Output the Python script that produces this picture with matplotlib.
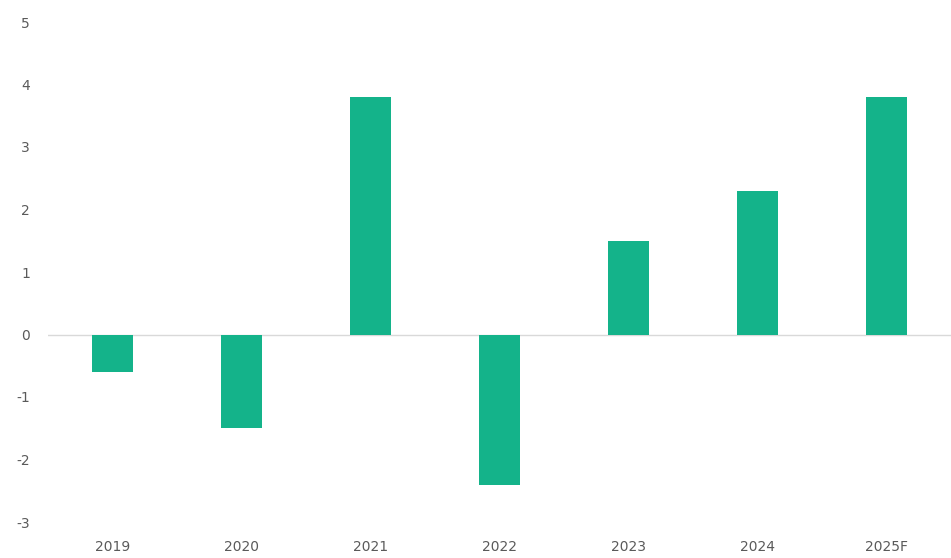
import matplotlib.pyplot as plt

plt.rcParams['axes.unicode_minus'] = False

# data
years = ['2019', '2020', '2021', '2022', '2023', '2024', '2025F']
growth = [-0.6, -1.5, 3.8, -2.4, 1.5, 2.3, 3.8]
y_ticks = [-3, -2, -1, 0, 1, 2, 3, 4, 5]

bar_color = '#14b38a'
text_color = '#5a5a5a'

fig = plt.figure(figsize=(9.51, 5.58), dpi=100)
ax = fig.add_axes([48 / 951, 36 / 558, 903 / 951, 500 / 558])

x = range(len(years))
ax.bar(x, growth, width=0.32, color=bar_color, zorder=2)
ax.axhline(0, color='#d9d9d9', linewidth=1, zorder=1)

ax.set_xlim(-0.5, len(years) - 0.5)
ax.set_ylim(-3, 5)
ax.set_xticks(list(x))
ax.set_xticklabels(years)
ax.set_yticks(y_ticks)

for s in ax.spines.values():
    s.set_visible(False)
ax.tick_params(axis='both', length=0, labelsize=10, colors=text_color)
ax.tick_params(axis='y', pad=13)
ax.tick_params(axis='x', pad=13)

fig.savefig('out.png', dpi=100)
